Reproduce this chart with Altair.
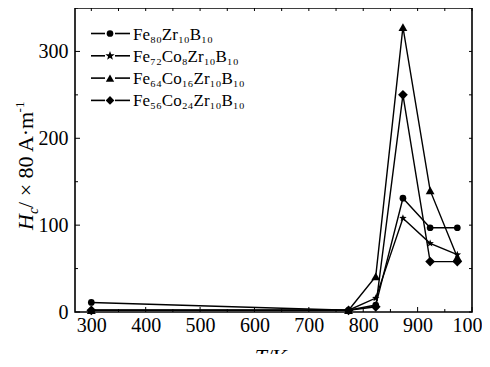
import math
import altair as alt
import pandas as pd

# ---------------- data ----------------
temps = [300, 773, 823, 873, 923, 973]
fe80 = [11, 2, 8, 131, 97, 97]
fe72 = [2, 2, 16, 108, 79, 66]
fe64 = [2, 2, 41, 328, 140, 63]
fe56 = [2, 2, 6, 250, 58, 58]
series_names = ["Fe₈₀Zr₁₀B₁₀", "Fe₇₂Co₈Zr₁₀B₁₀", "Fe₆₄Co₁₆Zr₁₀B₁₀", "Fe₅₆Co₂₄Zr₁₀B₁₀"]
x_labels = [300, 400, 500, 600, 700, 800, 900, 1000]
x_minor = [350, 450, 550, 650, 750, 850, 950]
y_labels = [0, 100, 200, 300]
y_minor = [50, 150, 250, 350]

rows = []
for name, vals in zip(series_names, [fe80, fe72, fe64, fe56]):
    for t, v in zip(temps, vals):
        rows.append({"T": t, "Hc": v, "s": name})
df = pd.DataFrame(rows)

# ---------------- style ----------------
W, H = 397, 304
FONT = "Liberation Serif, Times New Roman, serif"


def star_path(r_in=0.42):
    pts = []
    for k in range(10):
        r = 1.0 if k % 2 == 0 else r_in
        a = -math.pi / 2 + k * math.pi / 5
        pts.append((r * math.cos(a), r * math.sin(a)))
    return "M" + " L".join(f"{x:.3f},{y:.3f}" for x, y in pts) + " Z"


STAR = star_path()
shapes = ["circle", STAR, "triangle-up", "diamond"]
sizes = [45, 95, 70, 75]

xs = alt.Scale(domain=[270, 1000], nice=False, zero=False)
ys = alt.Scale(domain=[0, 350], nice=False, zero=False)

base = alt.Chart(df)

lines = base.mark_line(color="black", strokeWidth=1.4).encode(
    x=alt.X("T:Q", scale=xs,
            axis=alt.Axis(values=x_labels, ticks=False, domain=False, grid=False,
                          labelFont=FONT, labelFontSize=20, labelColor="black",
                          labelPadding=3, title=None, format="d",
                          labelOverlap=False, labelFlush=False, labelBound=False)),
    y=alt.Y("Hc:Q", scale=ys,
            axis=alt.Axis(values=y_labels, ticks=False, domain=False, grid=False,
                          labelFont=FONT, labelFontSize=20, labelColor="black",
                          labelPadding=7, title=None,
                          labelOverlap=False, labelFlush=False, labelBound=False)),
    detail="s:N",
)

points = base.mark_point(filled=True, color="black", opacity=1).encode(
    x=alt.X("T:Q", scale=xs),
    y=alt.Y("Hc:Q", scale=ys),
    shape=alt.Shape("s:N", scale=alt.Scale(domain=series_names, range=shapes), legend=None),
    size=alt.Size("s:N", scale=alt.Scale(domain=series_names, range=sizes), legend=None),
)

# ---------- inward ticks ----------
def tdf(vals):
    return pd.DataFrame({"v": vals})

tick_layers = [
    alt.Chart(tdf(x_labels)).mark_rule(color="black", strokeWidth=1).encode(
        x=alt.X("v:Q", scale=xs), y=alt.value(H), y2=alt.value(H - 5)),
    alt.Chart(tdf(x_minor)).mark_rule(color="black", strokeWidth=1).encode(
        x=alt.X("v:Q", scale=xs), y=alt.value(H), y2=alt.value(H - 3)),
    alt.Chart(tdf(x_labels + x_minor)).mark_rule(color="black", strokeWidth=1).encode(
        x=alt.X("v:Q", scale=xs), y=alt.value(0), y2=alt.value(3)),
    alt.Chart(tdf(y_labels)).mark_rule(color="black", strokeWidth=1).encode(
        y=alt.Y("v:Q", scale=ys), x=alt.value(0), x2=alt.value(5)),
    alt.Chart(tdf(y_minor)).mark_rule(color="black", strokeWidth=1).encode(
        y=alt.Y("v:Q", scale=ys), x=alt.value(0), x2=alt.value(3)),
    alt.Chart(tdf(y_labels + y_minor)).mark_rule(color="black", strokeWidth=1).encode(
        y=alt.Y("v:Q", scale=ys), x=alt.value(W), x2=alt.value(W - 3)),
]

one = pd.DataFrame({"a": [0]})

# ---------- legend ----------
legend_layers = []
for i, name in enumerate(series_names):
    yy = 25.5 + 22.3 * i
    legend_layers += [
        alt.Chart(one).mark_rule(color="black", strokeWidth=1.6).encode(
            x=alt.value(16), x2=alt.value(30), y=alt.value(yy)),
        alt.Chart(one).mark_rule(color="black", strokeWidth=1.6).encode(
            x=alt.value(40), x2=alt.value(55), y=alt.value(yy)),
        alt.Chart(one).mark_point(filled=True, color="black", opacity=1,
                                  shape=shapes[i], size=sizes[i]).encode(
            x=alt.value(35), y=alt.value(yy)),
        alt.Chart(one).mark_text(font=FONT, fontSize=17, align="left",
                                 baseline="middle", color="black").encode(
            x=alt.value(58), y=alt.value(yy + 1), text=alt.value(name)),
    ]

# ---------- y title (rotated, mixed styles) ----------
TS = 22
bx = -42
title_layers = []
y0 = 222
pieces = [
    ("H", TS, "italic", 0, 0.722),
    ("c", 14, "italic", 5, 0.444),
    ("/ × 80 A·m", TS, "normal", 0, 4.342),
    ("-1", 13, "normal", -9, 0.833),
]
cur = y0
for txt, fs, st, dx, wem in pieces:
    title_layers.append(
        alt.Chart(one).mark_text(font=FONT, fontSize=fs, fontStyle=st, angle=270,
                                 align="left", baseline="alphabetic", color="black").encode(
            x=alt.value(bx + dx), y=alt.value(cur), text=alt.value(txt)))
    cur -= fs * wem

# ---------- x title (only its top shows, as in the reference) ----------
xt_layers = [
    alt.Chart(one).mark_text(font=FONT, fontSize=TS, fontStyle="italic", align="right",
                             baseline="alphabetic", color="black").encode(
        x=alt.value(192), y=alt.value(356), text=alt.value("T")),
    alt.Chart(one).mark_text(font=FONT, fontSize=TS, align="left",
                             baseline="alphabetic", color="black").encode(
        x=alt.value(192), y=alt.value(356), text=alt.value("/K")),
]

chart = alt.layer(lines, points, *tick_layers, *legend_layers, *title_layers, *xt_layers).properties(
    width=W, height=H,
    autosize=alt.AutoSizeParams(type="none"),
    padding={"left": 67, "top": 0, "right": 10, "bottom": 42},
    background="white",
).configure_view(stroke="black", strokeWidth=1.6)

chart.save("out.html", embed_options={"renderer": "svg", "actions": False})
